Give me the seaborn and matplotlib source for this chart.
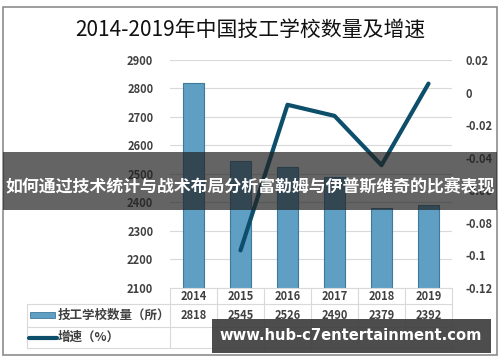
import numpy as np
import pandas as pd
import matplotlib
matplotlib.use("Agg")
import matplotlib.pyplot as plt
import matplotlib.transforms as mtransforms
from matplotlib.patches import Rectangle
from matplotlib.lines import Line2D
import seaborn as sns

years = ["2014", "2015", "2016", "2017", "2018", "2019"]
schools = [2818, 2545, 2526, 2490, 2379, 2392]
growth = [np.nan, -0.0969, -0.0075, -0.0143, -0.0446, 0.0055]
left_ticks = [2100, 2200, 2300, 2400, 2500, 2600, 2700, 2800, 2900]
right_ticks = [-0.12, -0.1, -0.08, -0.06, -0.04, -0.02, 0, 0.02]
right_labels = ["-0.12", "-0.1", "-0.08", "-0.06", "-0.04", "-0.02", "0", "0.02"]
title = "2014-2019年中国技工学校数量及增速"
bar_label = "技工学校数量（所）"
line_label = "增速（%）"
banner = "如何通过技术统计与战术布局分析富勒姆与伊普斯维奇的比赛表现"
watermark = "www.hub-c7entertainment.com"

sns.set_theme(style="white")
plt.rcParams['font.family'] = ['Noto Sans CJK SC', 'DejaVu Sans']

W, H = 500, 362
fig = plt.figure(figsize=(W / 100, H / 100), dpi=100)

def fx(px):
    return px / W

def fy(py):
    return 1 - py / H

# outer border
fig.patches.append(Rectangle((fx(3), fy(355)), fx(494), 348 / H,
                             transform=fig.transFigure, fill=False,
                             edgecolor="#8c8c8c", linewidth=1.2, zorder=0))

ax = fig.add_axes([fx(170), fy(288), fx(452) - fx(170), fy(60) - fy(288)])
df = pd.DataFrame({"year": years, "schools": schools})
sns.barplot(data=df, x="year", y="schools", ax=ax, color="#5e9fc3",
            width=0.45, edgecolor="#3f7a9a", linewidth=0.8, saturation=1, zorder=3)
ax.set_ylim(2100, 2900)
ax.set_xlim(-0.5, 5.5)
ax.set_yticks(left_ticks)
ax.set_yticklabels([str(t) for t in left_ticks], fontsize=8, color="#404040",
                   fontweight="bold")
ax.tick_params(axis="y", length=0, pad=12)
ax.set_xticks([])
ax.set_xlabel("")
ax.set_ylabel("")
ax.yaxis.grid(True, color="#d9d9d9", linewidth=0.8, zorder=0)
ax.set_axisbelow(True)
for s in ax.spines.values():
    s.set_visible(False)

ax2 = ax.twinx()
sns.lineplot(x=np.arange(len(years)), y=growth, ax=ax2, color="#0d4f6b",
             linewidth=3, zorder=4)
ax2.set_ylim(-0.12, 0.02)
ax2.set_yticks(right_ticks)
ax2.set_yticklabels(right_labels, fontsize=8, color="#404040", fontweight="bold")
ax2.tick_params(axis="y", length=0, pad=10)
ax2.set_xlim(-0.5, 5.5)
ax2.grid(False)
for s in ax2.spines.values():
    s.set_visible(False)

fig.text(0.5, fy(31), title, ha="center", va="center", fontsize=15,
         color="#111111")

# data table
blend = mtransforms.blended_transform_factory(ax.transData, fig.transFigure)
grid_c = "#d9d9d9"
col_edges = np.arange(len(years) + 1) - 0.5
for xe in col_edges:
    fig.lines.append(Line2D([xe, xe], [fy(288), fy(348)], transform=blend,
                            color=grid_c, linewidth=0.8))
fig.lines.append(Line2D([fx(27), fx(27)], [fy(304), fy(348)],
                        transform=fig.transFigure, color=grid_c, linewidth=0.8))
fig.lines.append(Line2D([-0.5, 5.5], [fy(288), fy(288)], transform=blend,
                        color=grid_c, linewidth=0.8))
for yl in [304, 327, 348]:
    fig.lines.append(Line2D([fx(27), fx(452)], [fy(yl), fy(yl)],
                            transform=fig.transFigure, color=grid_c, linewidth=0.8))
for i, y in enumerate(years):
    fig.text(i, fy(296), y, transform=blend, ha="center", va="center",
             fontsize=8, color="#404040", fontweight="bold")
    fig.text(i, fy(315.5), str(schools[i]), transform=blend, ha="center",
             va="center", fontsize=8, color="#404040", fontweight="bold")
fig.patches.append(Rectangle((fx(30), fy(318)), fx(25), 6 / H,
                             transform=fig.transFigure, facecolor="#5e9fc3",
                             edgecolor="#3f7a9a", linewidth=0.6))
fig.lines.append(Line2D([fx(29), fx(57)], [fy(337.5), fy(337.5)],
                        transform=fig.transFigure, color="#0d4f6b", linewidth=3))
fig.text(fx(58), fy(315.5), bar_label, ha="left", va="center", fontsize=9,
         color="#404040", fontweight="bold")
fig.text(fx(58), fy(337.5), line_label, ha="left", va="center", fontsize=9,
         color="#404040", fontweight="bold")

# overlay banner
fig.patches.append(Rectangle((fx(3), fy(210)), fx(494), 58 / H,
                             transform=fig.transFigure, facecolor="#222222",
                             alpha=0.7, edgecolor="none", zorder=10))
fig.text(0.5, fy(186), banner, ha="center", va="center", fontsize=12.2,
         color="white", fontweight="bold", zorder=11)

# watermark
fig.patches.append(Rectangle((fx(212), fy(353)), fx(279), 34 / H,
                             transform=fig.transFigure, facecolor="#3a3a3a",
                             alpha=0.9, edgecolor="none", zorder=10))
fig.text(fx(351), fy(336), watermark, ha="center", va="center", fontsize=10.6,
         color="white", fontweight="bold", family="DejaVu Sans", zorder=11)

fig.savefig("out.png", dpi=100)
